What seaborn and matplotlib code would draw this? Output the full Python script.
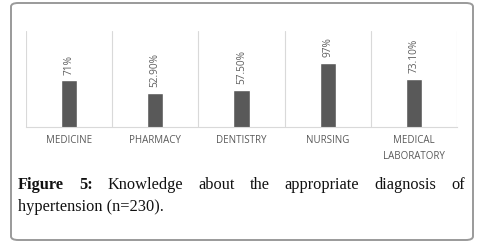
import numpy as np
import matplotlib.pyplot as plt
import seaborn as sns
from matplotlib.patches import FancyBboxPatch

categories = ["MEDICINE", "PHARMACY", "DENTISTRY", "NURSING", "MEDICAL\nLABORATORY"]
values = [71, 52.9, 57.5, 97, 73.1]
value_labels = ["71%", "52.90%", "57.50%", "97%", "73.10%"]
caption_line1 = ["Figure", "5:", "Knowledge", "about", "the", "appropriate", "diagnosis", "of"]
caption_line2 = "hypertension (n=230)."

sns.set_style("white")
plt.rcParams['font.family'] = ['Open Sans', 'DejaVu Sans']

fig = plt.figure(figsize=(4.82, 2.48), dpi=100)

# rounded frame around the figure
frame = FancyBboxPatch((11 / 482, 8 / 248), 462 / 482, 237 / 248,
                       boxstyle="round,pad=0,rounding_size=0.015",
                       transform=fig.transFigure, fill=False,
                       edgecolor="#9a9a9a", linewidth=1.4)
fig.patches.append(frame)

ax = fig.add_axes([26 / 482, 121 / 248, 431 / 482, 96 / 248])
sns.barplot(x=list(range(len(categories))), y=values, color="#595959",
            width=0.19, ax=ax, saturation=1)
ax.set_xlim(-0.5, len(categories) - 0.5)
ax.set_ylim(3, 143)

for i, (v, lab) in enumerate(zip(values, value_labels)):
    ax.text(i, v + 8, lab, rotation=90, ha="center", va="bottom",
            fontsize=7.3, color="#5f5f5f")

# vertical separators between categories
for xb in np.arange(-0.5, len(categories), 1.0):
    ax.axvline(xb, color="#d9d9d9", linewidth=0.8, zorder=0)

for s in ["top", "left", "right"]:
    ax.spines[s].set_visible(False)
ax.spines["bottom"].set_color("#d9d9d9")
ax.spines["bottom"].set_linewidth(0.8)
ax.set_yticks([])
ax.set_xticks(range(len(categories)))
ax.set_xticklabels(categories, fontsize=7, color="#595959", linespacing=1.55)
ax.tick_params(axis="x", length=0, pad=6)

# caption, justified on first line
serif = ['Liberation Serif', 'DejaVu Serif']
fig.canvas.draw()
renderer = fig.canvas.get_renderer()
x_left, x_right = 18 / 482, 465 / 482
y1, y2 = 1 - 189 / 248, 1 - 211 / 248
texts = []
for j, w in enumerate(caption_line1):
    t = fig.text(0, y1, w, fontsize=11.8, family=serif,
                 fontweight="bold" if j < 2 else "normal", color="#111111")
    texts.append(t)
widths = [t.get_window_extent(renderer).width / fig.bbox.width for t in texts]
gap = (x_right - x_left - sum(widths)) / (len(texts) - 1)
xpos = x_left
for t, w in zip(texts, widths):
    t.set_x(xpos)
    xpos += w + gap
fig.text(x_left, y2, caption_line2, fontsize=11.8, family=serif, color="#111111")

fig.savefig("out.png", dpi=100)
